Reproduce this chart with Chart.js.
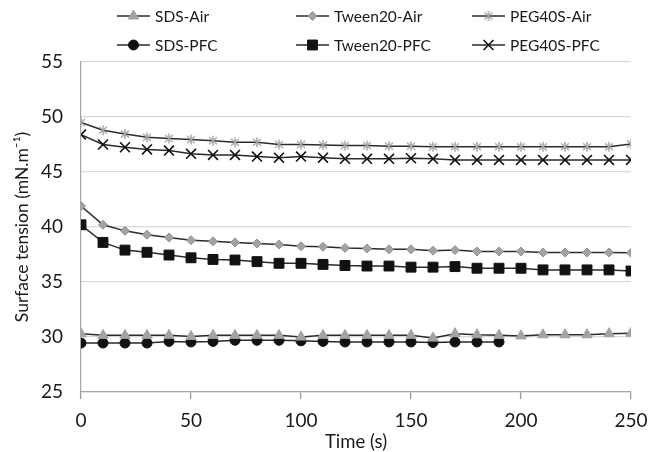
<!DOCTYPE html>
<html>
<head>
<meta charset="utf-8">
<script src="https://cdn.jsdelivr.net/npm/chart.js@4/dist/chart.umd.min.js"></script>
<style>
html,body{margin:0;padding:0;background:#fff;}
#wrap{width:649px;height:452px;}
</style>
</head>
<body>
<div id="wrap"><canvas id="c" width="649" height="452"></canvas></div>
<script>
// ---- data ----
const timeS = [0,10,20,30,40,50,60,70,80,90,100,110,120,130,140,150,160,170,180,190,200,210,220,230,240,250];
const sdsAir = [30.3,30.15,30.15,30.15,30.15,30.05,30.15,30.15,30.15,30.15,30.0,30.15,30.15,30.15,30.15,30.15,29.9,30.3,30.2,30.15,30.1,30.2,30.2,30.2,30.3,30.35];
const sdsPfc = [29.45,29.45,29.45,29.45,29.6,29.55,29.6,29.7,29.7,29.7,29.65,29.6,29.55,29.55,29.55,29.55,29.5,29.55,29.55,29.55];
const tween20Air = [41.9,40.2,39.65,39.3,39.05,38.8,38.7,38.6,38.5,38.4,38.25,38.2,38.1,38.05,37.97,37.97,37.85,37.9,37.77,37.77,37.77,37.68,37.68,37.68,37.68,37.65];
const tween20Pfc = [40.2,38.6,37.9,37.7,37.45,37.2,37.05,37.0,36.85,36.7,36.7,36.6,36.5,36.45,36.45,36.35,36.35,36.4,36.25,36.25,36.25,36.1,36.1,36.1,36.1,36.0];
const peg40sAir = [49.5,48.8,48.45,48.15,48.05,47.95,47.85,47.7,47.7,47.5,47.5,47.45,47.4,47.4,47.35,47.35,47.3,47.3,47.3,47.3,47.3,47.3,47.3,47.3,47.3,47.55];
const peg40sPfc = [48.4,47.5,47.25,47.05,46.95,46.65,46.55,46.55,46.4,46.3,46.4,46.3,46.2,46.2,46.2,46.25,46.2,46.1,46.1,46.1,46.1,46.1,46.1,46.1,46.1,46.1];
const seriesNames = ['SDS-Air','Tween20-Air','PEG40S-Air','SDS-PFC','Tween20-PFC','PEG40S-PFC'];
const yTicks = [25,30,35,40,45,50,55];
const xTicks = [0,50,100,150,200,250];

const FONT = 'Lato, "Open Sans", sans-serif';
const LINE = '#2a2a2a';
const GREY = '#a3a3a3';
const TEXT = '#1a1a1a';

function pts(vals){ return vals.map((v,i)=>({x:timeS[i], y:v})); }

// Excel-style star marker (X plus vertical bar)
function starImg(){
  const c = document.createElement('canvas');
  c.width = 12; c.height = 12;
  const g = c.getContext('2d');
  g.strokeStyle = GREY; g.lineWidth = 1.4;
  g.beginPath();
  g.moveTo(2,2.5); g.lineTo(10,9.5);
  g.moveTo(10,2.5); g.lineTo(2,9.5);
  g.moveTo(6,1); g.lineTo(6,11);
  g.stroke();
  return c;
}
const star = starImg();

function ds(label, vals, style, fill, border, radius, bw){
  return {
    label, data: pts(vals), borderColor: LINE, borderWidth: 1.5,
    pointStyle: style, pointBackgroundColor: fill, pointBorderColor: border,
    pointRadius: radius, pointBorderWidth: bw, tension: 0, fill: false
  };
}

const datasets = [
  ds(seriesNames[0], sdsAir, 'triangle', GREY, GREY, 6, 1),
  ds(seriesNames[1], tween20Air, 'rectRot', GREY, '#8f8f8f', 4.5, 1),
  ds(seriesNames[2], peg40sAir, star, GREY, GREY, 6, 1),
  ds(seriesNames[3], sdsPfc, 'circle', '#111', '#111', 5, 1),
  ds(seriesNames[4], tween20Pfc, 'rect', '#111', '#111', 7, 1),
  ds(seriesNames[5], peg40sPfc, 'crossRot', '#111', '#111', 7, 1.6)
];

const legendPlugin = {
  id: 'gridLegend',
  afterDraw(chart){
    const ctx = chart.ctx;
    const cols = [{lx:117, tx:155},{lx:296, tx:334},{lx:472, tx:510}];
    const rows = [16, 45];
    const lineLen = 33;
    chart.data.datasets.forEach((d,i)=>{
      const col = cols[i%3], y = rows[Math.floor(i/3)];
      ctx.save();
      ctx.strokeStyle = d.borderColor; ctx.lineWidth = 1.5;
      ctx.beginPath(); ctx.moveTo(col.lx, y); ctx.lineTo(col.lx+lineLen, y); ctx.stroke();
      ctx.fillStyle = d.pointBackgroundColor; ctx.strokeStyle = d.pointBorderColor;
      ctx.lineWidth = d.pointBorderWidth;
      Chart.helpers.drawPoint(ctx, {pointStyle: d.pointStyle, radius: d.pointRadius, borderWidth: d.pointBorderWidth, rotation: 0}, col.lx+lineLen/2, y);
      ctx.fillStyle = TEXT;
      ctx.font = '15.5px ' + FONT;
      ctx.textBaseline = 'middle'; ctx.textAlign = 'left';
      ctx.fillText(d.label, col.tx, y+1);
      ctx.restore();
    });
  }
};

new Chart(document.getElementById('c'), {
  type: 'line',
  data: { datasets },
  plugins: [legendPlugin],
  options: {
    responsive: false,
    animation: false,
    layout: { padding: { top: 62, right: 18, left: 0, bottom: 0 } },
    plugins: { legend: { display: false }, tooltip: { enabled: false } },
    scales: {
      x: {
        type: 'linear', min: 0, max: 250,
        afterBuildTicks: s => { s.ticks = xTicks.map(v=>({value:v})); },
        afterFit: s => { s.height = 60; s.paddingLeft = 0; s.paddingRight = 0; },
        ticks: { color: TEXT, font: { family: FONT, size: 19, lineHeight: 2 }, padding: 3, maxRotation: 0 },
        grid: { drawOnChartArea: false, drawTicks: true, tickLength: 7, color: '#999999', tickColor: '#999999', tickWidth: 1.3, lineWidth: 1.2 },
        border: { color: '#a6a6a6', width: 1.2 },
        title: { display: true, text: 'Time (s)', color: TEXT, font: { family: FONT, size: 18.5 }, padding: { top: 0, bottom: -1 } }
      },
      y: {
        min: 25, max: 55,
        afterBuildTicks: s => { s.ticks = yTicks.map(v=>({value:v})); },
        afterFit: s => { s.width = 81; s.paddingTop = 0; s.paddingBottom = 0; },
        ticks: { color: TEXT, font: { family: FONT, size: 19 }, padding: 18 },
        grid: { drawTicks: false, color: '#d9d9d9', lineWidth: 1.2 },
        border: { color: '#a6a6a6', width: 1.2 },
        title: { display: true, text: 'Surface tension (mN.m⁻¹)', color: TEXT, font: { family: FONT, size: 17.5 }, padding: { top: 12, bottom: 0 } }
      }
    }
  }
});
</script>
</body>
</html>
